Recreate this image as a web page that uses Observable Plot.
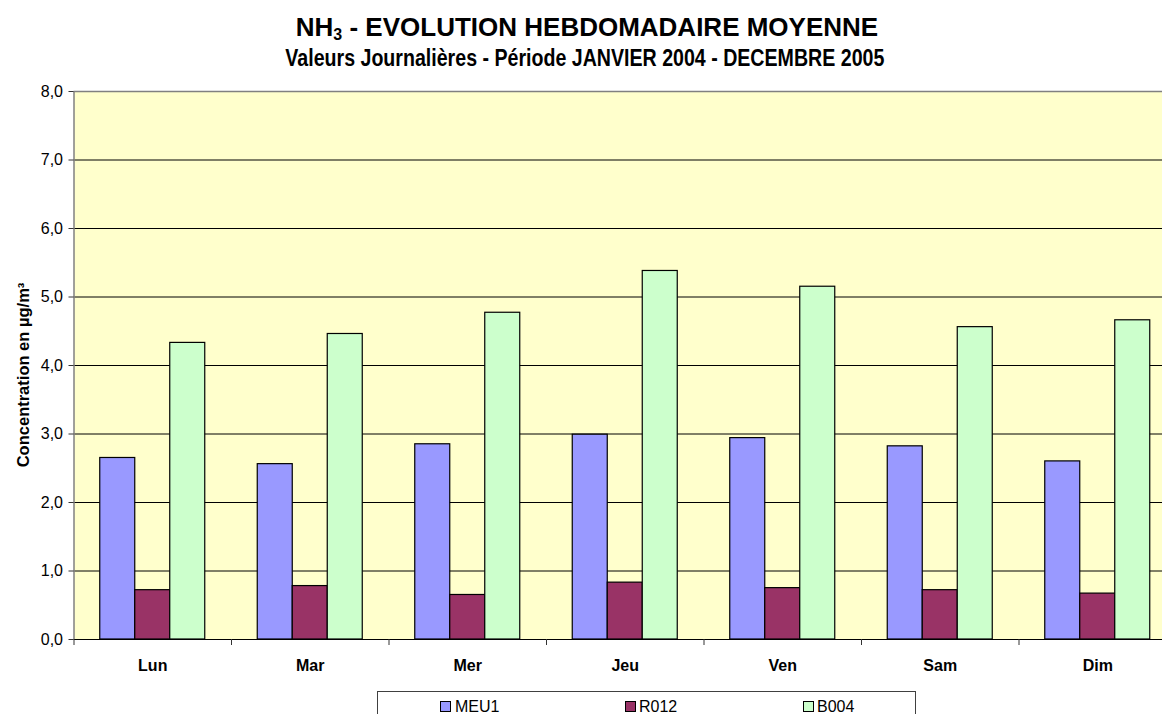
<!DOCTYPE html>
<html>
<head>
<meta charset="utf-8">
<script src="https://cdn.jsdelivr.net/npm/d3@7"></script>
<script src="https://cdn.jsdelivr.net/npm/@observablehq/plot@0.6"></script>
<style>
html, body { margin: 0; padding: 0; background: #fff; overflow: hidden; }
body { width: 1162px; height: 714px; position: relative; font-family: "Liberation Sans", Arial, sans-serif; color: #000; }
#header { position: relative; height: 80px; }
.t { position: absolute; left: 0; white-space: nowrap; text-align: center; line-height: 1; font-weight: bold; }
#title { top: 13.7px; width: 1174px; font-size: 26px; }
#title .sub { font-size: 16px; position: relative; top: 4px; }
#subtitle { top: 46.4px; width: 1169px; font-size: 24px; font-family: "Liberation Sans Narrow", "Arial Narrow", "Liberation Sans", sans-serif; }
#subtitle span { display: inline-block; transform-origin: center; }
#chart { width: 1176px; }
#chart svg { display: block; overflow: visible; max-width: none !important; width: 1176px; height: 604px !important; }
#legend { position: absolute; left: 377px; top: 691px; width: 539px; height: 40px; border: 1px solid #404040; box-sizing: border-box; background: #fff; }
.sw { position: absolute; top: 9px; width: 9px; height: 9px; border: 1px solid #000; }
.lt { position: absolute; top: 7px; font-size: 16px; line-height: 16px; white-space: nowrap; }
</style>
</head>
<body>
<div id="header">
  <div id="title" class="t">NH<span class="sub">3</span> - EVOLUTION HEBDOMADAIRE MOYENNE</div>
  <div id="subtitle" class="t"><span>Valeurs Journalières - Période JANVIER 2004 - DECEMBRE 2005</span></div>
</div>
<div id="chart"></div>
<div id="legend"></div>
<script>
// ---- data ----
const days = ["Lun", "Mar", "Mer", "Jeu", "Ven", "Sam", "Dim"];
const series = ["MEU1", "R012", "B004"];
const meu1 = [2.65, 2.56, 2.85, 2.99, 2.94, 2.82, 2.60];
const r012 = [0.72, 0.78, 0.65, 0.83, 0.75, 0.72, 0.67];
const b004 = [4.33, 4.46, 4.77, 5.38, 5.15, 4.56, 4.66];
const yTicks = [0, 1, 2, 3, 4, 5, 6, 7, 8];
const yLabel = "Concentration en µg/m³";
const colors = ["#9999FF", "#993366", "#CCFFCC"];

const values = [meu1, r012, b004];
const data = days.flatMap((day, i) => series.map((s, k) => ({ day, i, series: s, value: values[k][i] })));

// position of each series inside a day slot (Excel gap width 150%)
const inner = d3.scaleBand().domain(series).range([0, 1]).paddingInner(0).paddingOuter(0.75);
const fmt = d => d.toFixed(1).replace(".", ",");

const chart = Plot.plot({
  width: 1176,
  height: 604,
  marginTop: 11,
  marginBottom: 45,
  marginLeft: 73.5,
  marginRight: 0,
  style: { fontFamily: "Liberation Sans, Arial, sans-serif", fontSize: "16px", color: "#000", background: "transparent", overflow: "visible", maxWidth: "none" },
  x: { type: "linear", domain: [0, days.length], axis: null },
  y: { domain: [0, 8], axis: null },
  color: { domain: series, range: colors },
  marks: [
    Plot.frame({ fill: "#FFFFCC", stroke: null }),
    Plot.ruleY(yTicks.filter(v => v > 0 && v < 8), { stroke: "#000", strokeWidth: 1 }),
    Plot.ruleY([8], { stroke: "#808080", strokeWidth: 1.5 }),
    Plot.rect(data, {
      x1: d => d.i + inner(d.series),
      x2: d => d.i + inner(d.series) + inner.bandwidth(),
      y1: 0,
      y2: "value",
      fill: "series",
      stroke: "#000",
      strokeWidth: 1.2
    }),
    Plot.ruleX([0], { stroke: "#808080", strokeWidth: 1.5 }),
    Plot.ruleY([0], { stroke: "#000", strokeWidth: 1.2 }),
    Plot.axisY({ ticks: yTicks, tickFormat: fmt, tickSize: 5, tickPadding: 6, stroke: "#333", label: null, fontSize: 16 }),
    Plot.axisX({ ticks: d3.range(days.length + 1), tickFormat: () => "", tickSize: 6, stroke: "#333", label: null }),
    Plot.axisX({ ticks: days.map((_, i) => i + 0.5), tickFormat: v => days[Math.floor(v)], tickSize: 0, tickPadding: 20, label: null, fontWeight: "bold", fontSize: 16 }),
    Plot.text([yLabel], { text: d => d, frameAnchor: "left", textAnchor: "middle", rotate: -90, dx: -50.5, dy: 9.5, fontWeight: "bold", fontSize: 16.5 })
  ]
});
document.getElementById("chart").append(chart);

// ---- legend ----
const legend = document.getElementById("legend");
const swX = [62, 247, 425];
const txX = [77, 261, 439];
series.forEach((s, k) => {
  const sw = document.createElement("div");
  sw.className = "sw";
  sw.style.left = swX[k] + "px";
  sw.style.background = colors[k];
  legend.append(sw);
  const tx = document.createElement("div");
  tx.className = "lt";
  tx.style.left = txX[k] + "px";
  tx.textContent = s;
  legend.append(tx);
});

// subtitle uses a narrow face; fit if the narrow font is missing
const sub = document.querySelector("#subtitle span");
const w = sub.getBoundingClientRect().width;
if (Math.abs(w - 599) > 12) sub.style.transform = `scaleX(${599 / w})`;
</script>
</body>
</html>
